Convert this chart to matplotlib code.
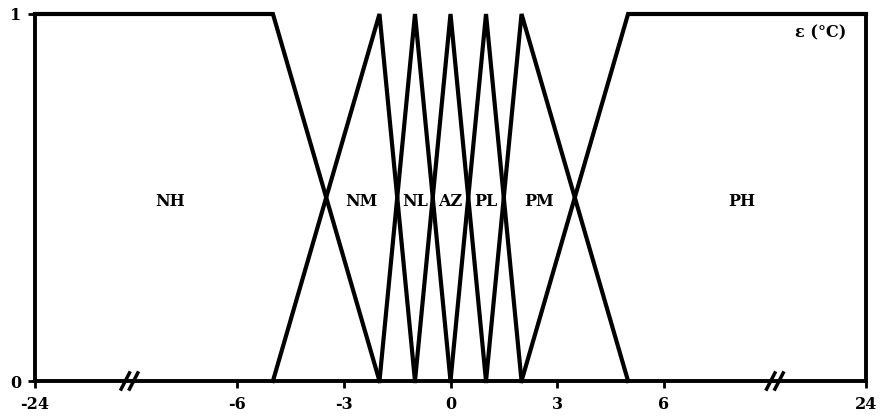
#!/usr/bin/env python3
# -*- coding: utf-8 -*-

import matplotlib
matplotlib.use('Agg')
import matplotlib.pyplot as plt
import numpy as np

# membership functions (x vertices, mu vertices)
names = ['NH', 'NM', 'NL', 'AZ', 'PL', 'PM', 'PH']
xs = [[-24, -5, -2],
      [-5, -2, -1],
      [-2, -1, 0],
      [-1, 0, 1],
      [0, 1, 2],
      [1, 2, 5],
      [2, 5, 24]]
ys = [[1, 1, 0],
      [0, 1, 0],
      [0, 1, 0],
      [0, 1, 0],
      [0, 1, 0],
      [0, 1, 0],
      [0, 1, 1]]
label_x = [-12, -2.5, -1, 0, 1, 2.5, 13]
xticks = [-24, -6, -3, 0, 3, 6, 24]
breaks = [-15.6, 15.9]

# broken axis: outer parts squeezed
xp = [-24, -6, 6, 24]
fp = [-11.7, -6, 6, 11.7]


def fwd(x):
    return np.interp(x, xp, fp)


def inv(x):
    return np.interp(x, fp, xp)


plt.rcParams['font.family'] = 'DejaVu Serif'
plt.rcParams['font.weight'] = 'bold'

fig = plt.figure(figsize=(8.9, 4.16), dpi=100)
ax = fig.add_axes([35 / 890, 1 - 381 / 416, 831 / 890, 367 / 416])
ax.set_xscale('function', functions=(fwd, inv))

for x, y in zip(xs, ys):
    ax.plot(x, y, 'k-', linewidth=3.0, clip_on=False, solid_joinstyle='miter')

for n, lx in zip(names, label_x):
    ax.text(lx, 0.49, n, ha='center', va='center', fontsize=11.5, fontweight='bold')

ax.text(0.945, 0.948, 'ε (°C)', transform=ax.transAxes, ha='center', va='center',
        fontsize=11.5, fontweight='bold')

ax.set_xlim(-24, 24)
ax.set_ylim(0, 1)
ax.set_xticks(xticks)
ax.set_xticklabels([str(t) for t in xticks])
ax.set_yticks([0, 1])
ax.tick_params(axis='x', direction='out', length=5, width=2, labelsize=11.5, pad=6)
ax.tick_params(axis='y', direction='out', length=5, width=2, labelsize=11.5, pad=5)
ax.spines['top'].set_visible(False)
for s in ['left', 'bottom', 'right']:
    ax.spines[s].set_linewidth(2.8)

# break marks on the x axis
span = fwd(24) - fwd(-24)
for b in breaks:
    bx = (fwd(b) - fwd(-24)) / span
    for off in (-0.005, 0.005):
        ax.plot([bx + off - 0.005, bx + off + 0.005], [-0.022, 0.022], 'k-',
                linewidth=2.5, transform=ax.transAxes, clip_on=False)

fig.savefig('out.png', dpi=100)
